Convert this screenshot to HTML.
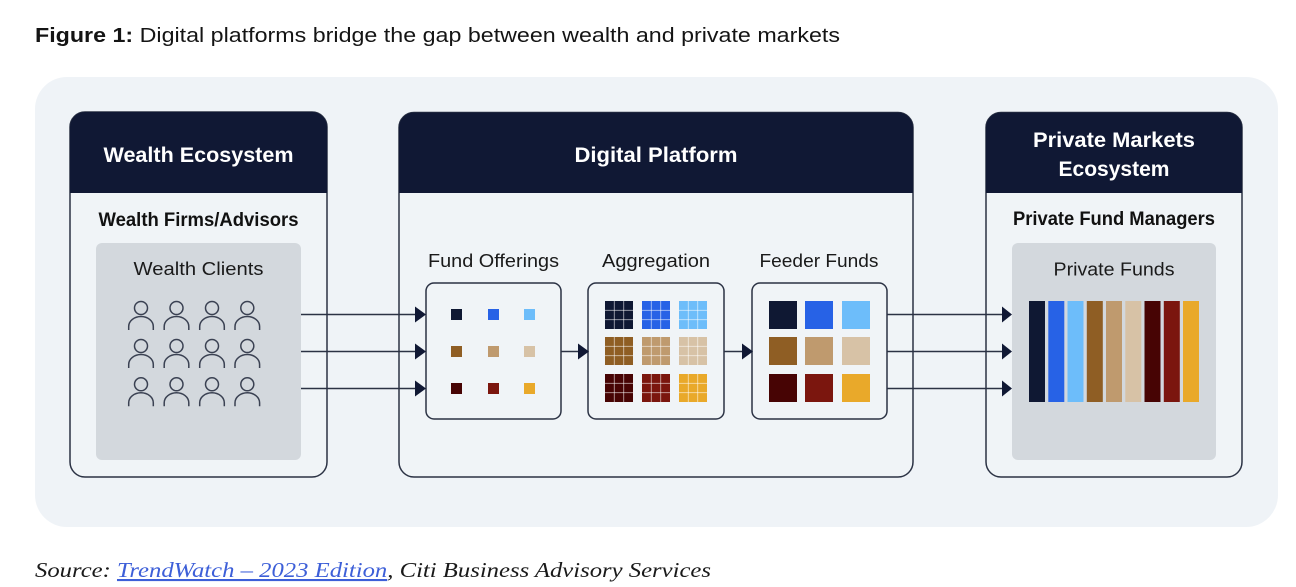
<!DOCTYPE html>
<html><head><meta charset="utf-8"><style>
html,body{margin:0;padding:0;background:#fff;}
svg{display:block;}
</style></head><body>
<svg width="1296" height="587" viewBox="0 0 1296 587" xmlns="http://www.w3.org/2000/svg">
<defs>
<g id="p">
<circle cx="0" cy="0" r="6.5" fill="none" stroke="#3a4152" stroke-width="1.5"/>
<path d="M-12.3,22 V18.5 A12.3,10 0 0 1 12.3,18.5 V22" fill="none" stroke="#3a4152" stroke-width="1.5"/>
</g>
<g id="gl" stroke="rgba(255,255,255,0.55)" stroke-width="1">
<line x1="9.33" y1="0" x2="9.33" y2="28"/><line x1="18.67" y1="0" x2="18.67" y2="28"/>
<line x1="0" y1="9.33" x2="28" y2="9.33"/><line x1="0" y1="18.67" x2="28" y2="18.67"/>
</g>
</defs>
<rect width="1296" height="587" fill="#fff"/>
<!-- title -->
<text x="35" y="42" font-family="Liberation Sans, sans-serif" font-size="20" fill="#141414" textLength="805" lengthAdjust="spacingAndGlyphs"><tspan font-weight="bold">Figure 1:</tspan> Digital platforms bridge the gap between wealth and private markets</text>
<!-- panel -->
<rect x="35" y="77" width="1243" height="450" rx="32" fill="#eff3f7"/>

<!-- Wealth box -->
<rect x="70" y="112" width="257" height="365" rx="15" fill="#f0f4f7" stroke="#2b3244" stroke-width="1.5"/>
<path d="M70,193 V127 A15,15 0 0 1 85,112 H312 A15,15 0 0 1 327,127 V193 Z" fill="#101834"/>
<text x="198.5" y="162" text-anchor="middle" font-family="Liberation Sans, sans-serif" font-weight="bold" font-size="21" fill="#fff" textLength="190" lengthAdjust="spacingAndGlyphs">Wealth Ecosystem</text>
<text x="198.5" y="226" text-anchor="middle" font-family="Liberation Sans, sans-serif" font-weight="bold" font-size="19" fill="#111" textLength="200" lengthAdjust="spacingAndGlyphs">Wealth Firms/Advisors</text>
<rect x="96" y="243" width="205" height="217" rx="6" fill="#d3d8dd"/>
<text x="198.5" y="275" text-anchor="middle" font-family="Liberation Sans, sans-serif" font-size="18.5" fill="#1a1a1a" textLength="130" lengthAdjust="spacingAndGlyphs">Wealth Clients</text>
<g>
<use href="#p" x="141" y="308"/><use href="#p" x="176.5" y="308"/><use href="#p" x="212" y="308"/><use href="#p" x="247.3" y="308"/>
<use href="#p" x="141" y="346"/><use href="#p" x="176.5" y="346"/><use href="#p" x="212" y="346"/><use href="#p" x="247.3" y="346"/>
<use href="#p" x="141" y="384.3"/><use href="#p" x="176.5" y="384.3"/><use href="#p" x="212" y="384.3"/><use href="#p" x="247.3" y="384.3"/>
</g>

<!-- Digital Platform box -->
<rect x="399" y="112.5" width="514" height="364.5" rx="15" fill="#f0f4f7" stroke="#2b3244" stroke-width="1.5"/>
<path d="M399,193 V127.5 A15,15 0 0 1 414,112.5 H898 A15,15 0 0 1 913,127.5 V193 Z" fill="#101834"/>
<text x="656" y="162" text-anchor="middle" font-family="Liberation Sans, sans-serif" font-weight="bold" font-size="21" fill="#fff" textLength="163" lengthAdjust="spacingAndGlyphs">Digital Platform</text>

<text x="493.5" y="267" text-anchor="middle" font-family="Liberation Sans, sans-serif" font-size="18.5" fill="#1a1a1a" textLength="131" lengthAdjust="spacingAndGlyphs">Fund Offerings</text>
<text x="656" y="267" text-anchor="middle" font-family="Liberation Sans, sans-serif" font-size="18.5" fill="#1a1a1a" textLength="108" lengthAdjust="spacingAndGlyphs">Aggregation</text>
<text x="819" y="267" text-anchor="middle" font-family="Liberation Sans, sans-serif" font-size="18.5" fill="#1a1a1a" textLength="119" lengthAdjust="spacingAndGlyphs">Feeder Funds</text>

<rect x="426" y="283" width="135" height="136" rx="8" fill="#f0f4f7" stroke="#2b3244" stroke-width="1.5"/>
<rect x="588" y="283" width="136" height="136" rx="8" fill="#f0f4f7" stroke="#2b3244" stroke-width="1.5"/>
<rect x="752" y="283" width="135" height="136" rx="8" fill="#f0f4f7" stroke="#2b3244" stroke-width="1.5"/>

<!-- fund offering small squares -->
<rect x="451" y="309" width="11" height="11" fill="#0f1833"/>
<rect x="488" y="309" width="11" height="11" fill="#2762e6"/>
<rect x="524" y="309" width="11" height="11" fill="#6dbdfa"/>
<rect x="451" y="346" width="11" height="11" fill="#8f5e24"/>
<rect x="488" y="346" width="11" height="11" fill="#bf9a6e"/>
<rect x="524" y="346" width="11" height="11" fill="#d7c2a6"/>
<rect x="451" y="383" width="11" height="11" fill="#470404"/>
<rect x="488" y="383" width="11" height="11" fill="#7b160e"/>
<rect x="524" y="383" width="11" height="11" fill="#e9a92a"/>

<!-- aggregation grids -->
<g>
<rect x="605" y="301" width="28" height="28" fill="#0f1833"/><use href="#gl" x="605" y="301"/>
<rect x="642" y="301" width="28" height="28" fill="#2762e6"/><use href="#gl" x="642" y="301"/>
<rect x="679" y="301" width="28" height="28" fill="#6dbdfa"/><use href="#gl" x="679" y="301"/>
<rect x="605" y="337" width="28" height="28" fill="#8f5e24"/><use href="#gl" x="605" y="337"/>
<rect x="642" y="337" width="28" height="28" fill="#bf9a6e"/><use href="#gl" x="642" y="337"/>
<rect x="679" y="337" width="28" height="28" fill="#d7c2a6"/><use href="#gl" x="679" y="337"/>
<rect x="605" y="374" width="28" height="28" fill="#470404"/><use href="#gl" x="605" y="374"/>
<rect x="642" y="374" width="28" height="28" fill="#7b160e"/><use href="#gl" x="642" y="374"/>
<rect x="679" y="374" width="28" height="28" fill="#e9a92a"/><use href="#gl" x="679" y="374"/>
</g>

<!-- feeder squares -->
<rect x="769" y="301" width="28" height="28" fill="#0f1833"/>
<rect x="805" y="301" width="28" height="28" fill="#2762e6"/>
<rect x="842" y="301" width="28" height="28" fill="#6dbdfa"/>
<rect x="769" y="337" width="28" height="28" fill="#8f5e24"/>
<rect x="805" y="337" width="28" height="28" fill="#bf9a6e"/>
<rect x="842" y="337" width="28" height="28" fill="#d7c2a6"/>
<rect x="769" y="374" width="28" height="28" fill="#470404"/>
<rect x="805" y="374" width="28" height="28" fill="#7b160e"/>
<rect x="842" y="374" width="28" height="28" fill="#e9a92a"/>

<!-- Private Markets box -->
<rect x="986" y="112.5" width="256" height="364.5" rx="15" fill="#f0f4f7" stroke="#2b3244" stroke-width="1.5"/>
<path d="M986,193 V127.5 A15,15 0 0 1 1001,112.5 H1227 A15,15 0 0 1 1242,127.5 V193 Z" fill="#101834"/>
<text x="1114" y="147" text-anchor="middle" font-family="Liberation Sans, sans-serif" font-weight="bold" font-size="21" fill="#fff" textLength="162" lengthAdjust="spacingAndGlyphs">Private Markets</text>
<text x="1114" y="176" text-anchor="middle" font-family="Liberation Sans, sans-serif" font-weight="bold" font-size="21" fill="#fff" textLength="111" lengthAdjust="spacingAndGlyphs">Ecosystem</text>
<text x="1114" y="225" text-anchor="middle" font-family="Liberation Sans, sans-serif" font-weight="bold" font-size="19" fill="#111" textLength="202" lengthAdjust="spacingAndGlyphs">Private Fund Managers</text>
<rect x="1012" y="243" width="204" height="217" rx="6" fill="#d3d8dd"/>
<text x="1114" y="275.5" text-anchor="middle" font-family="Liberation Sans, sans-serif" font-size="18.5" fill="#1a1a1a" textLength="121" lengthAdjust="spacingAndGlyphs">Private Funds</text>
<g>
<rect x="1029" y="301" width="16" height="101" fill="#0f1833"/>
<rect x="1048.3" y="301" width="16" height="101" fill="#2762e6"/>
<rect x="1067.5" y="301" width="16" height="101" fill="#6dbdfa"/>
<rect x="1086.8" y="301" width="16" height="101" fill="#8f5e24"/>
<rect x="1106" y="301" width="16" height="101" fill="#bf9a6e"/>
<rect x="1125.3" y="301" width="16" height="101" fill="#d7c2a6"/>
<rect x="1144.5" y="301" width="16" height="101" fill="#470404"/>
<rect x="1163.8" y="301" width="16" height="101" fill="#7b160e"/>
<rect x="1183" y="301" width="16" height="101" fill="#e9a92a"/>
</g>

<!-- arrows -->
<g stroke="#2b3244" stroke-width="1.6">
<line x1="301" y1="314.5" x2="416" y2="314.5"/>
<line x1="301" y1="351.5" x2="416" y2="351.5"/>
<line x1="301" y1="388.5" x2="416" y2="388.5"/>
<line x1="561" y1="351.5" x2="579" y2="351.5"/>
<line x1="724" y1="351.5" x2="743" y2="351.5"/>
<line x1="887" y1="314.5" x2="1003" y2="314.5"/>
<line x1="887" y1="351.5" x2="1003" y2="351.5"/>
<line x1="887" y1="388.5" x2="1003" y2="388.5"/>
</g>
<g fill="#101834">
<polygon points="415,306.5 426,314.5 415,322.5"/>
<polygon points="415,343.5 426,351.5 415,359.5"/>
<polygon points="415,380.5 426,388.5 415,396.5"/>
<polygon points="578,343.5 589,351.5 578,359.5"/>
<polygon points="742,343.5 753,351.5 742,359.5"/>
<polygon points="1002,306.5 1012,314.5 1002,322.5"/>
<polygon points="1002,343.5 1012,351.5 1002,359.5"/>
<polygon points="1002,380.5 1012,388.5 1002,396.5"/>
</g>

<!-- source -->
<text x="35" y="577" font-family="Liberation Serif, serif" font-style="italic" font-size="21" fill="#1a1a1a" textLength="676" lengthAdjust="spacingAndGlyphs">Source: <tspan fill="#3d5fd8" text-decoration="underline">TrendWatch – 2023 Edition</tspan>, Citi Business Advisory Services</text>
</svg>
</body></html>
